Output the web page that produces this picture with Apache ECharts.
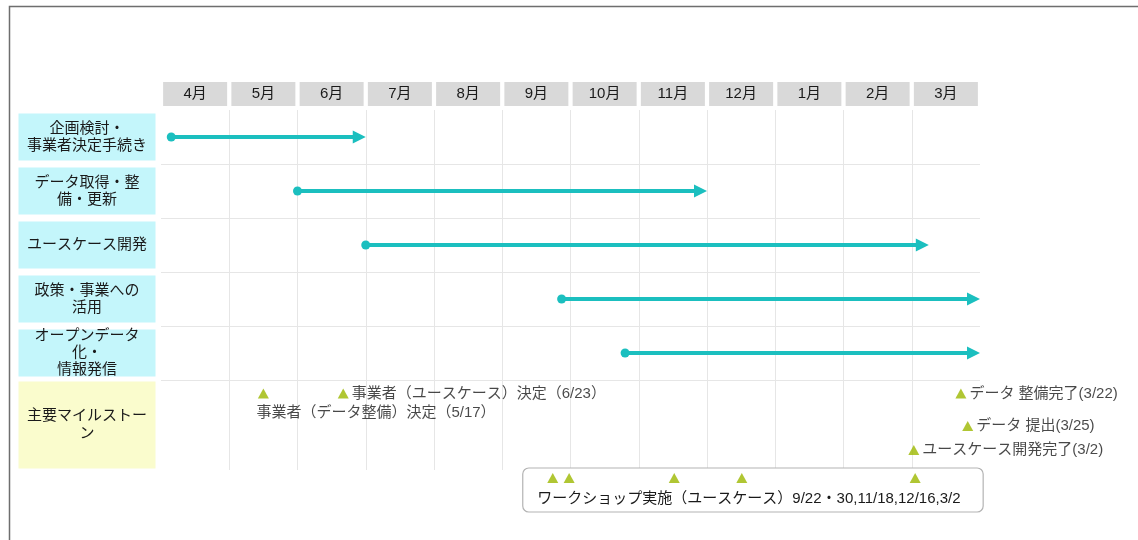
<!DOCTYPE html>
<html>
<head>
<meta charset="utf-8">
<script src="https://cdn.jsdelivr.net/npm/echarts@6/dist/echarts.min.js"></script>
<style>
html,body{margin:0;padding:0;background:#fff;}
#chart{width:1138px;height:540px;}
</style>
</head>
<body>
<div id="chart"></div>
<script>
// ---- data ----
const months = ['4月','5月','6月','7月','8月','9月','10月','11月','12月','1月','2月','3月'];
const tasks = ['企画検討・\n事業者決定手続き','データ取得・整\n備・更新','ユースケース開発','政策・事業への\n活用','オープンデータ\n化・\n情報発信'];
// month offsets from the start of April (0 = 4/1, 12 = end of March)
const taskStart = [0.15, 2.0, 3.0, 5.87, 6.8];
const taskEnd   = [3.0, 8.0, 11.25, 12.0, 12.0];

const milestoneRowLabel = '主要マイルストー\nン';
const milestoneLabels = ['事業者（データ整備）決定（5/17）','事業者（ユースケース）決定（6/23）','データ 整備完了(3/22)','データ 提出(3/25)','ユースケース開発完了(3/2)'];
const milestoneMonth = [1.50, 2.67, 11.72, 11.82, 11.03];
const milestoneLane  = [0.68, 0.68, 0.68, 2.3, 3.5];

const workshopLabel = 'ワークショップ実施（ユースケース）9/22・30,11/18,12/16,3/2';
const workshopMonth = [5.74, 5.98, 7.52, 8.51, 11.05];
const workshopLane = 4.9;

// ---- styles ----
const FONT = '"Liberation Sans", "Noto Sans CJK JP", sans-serif';
const TEAL = '#1bbfbf';
const OLIVE = '#9cb800';
const GRIDLINE = '#e6e6e6';

const chart = echarts.init(document.getElementById('chart'), null, {renderer: 'canvas'});

const hiddenAxis = {axisLine:{show:false}, axisTick:{show:false}, axisLabel:{show:false}};

const option = {
  backgroundColor: '#fff',
  animation: false,
  textStyle: {fontFamily: FONT},
  graphic: [{
    type: 'polyline',
    shape: {points: [[9.5, 540], [9.5, 6.5], [1138, 6.5]]},
    style: {stroke: '#6e6e6e', lineWidth: 1.5, fill: null},
    silent: true
  }],
  grid: [
    {left: 161, width: 819, top: 110, height: 270},
    {left: 161, width: 819, top: 380, height: 90}
  ],
  xAxis: [
    Object.assign({type: 'value', gridIndex: 0, min: 0, max: 12, interval: 1,
      splitLine: {show: true, showMinLine: false, showMaxLine: false, lineStyle: {color: GRIDLINE, width: 1}}}, hiddenAxis),
    Object.assign({type: 'value', gridIndex: 1, min: 0, max: 12, interval: 1,
      splitLine: {show: true, showMinLine: false, showMaxLine: false, lineStyle: {color: GRIDLINE, width: 1}}}, hiddenAxis),
    {type: 'category', gridIndex: 0, position: 'top', data: months, boundaryGap: true,
      axisLine: {show: false}, axisTick: {show: false}, splitLine: {show: false},
      axisLabel: {interval: 0, margin: 4, backgroundColor: '#d9d9d9', width: 64, height: 24, lineHeight: 24,
        align: 'center', fontSize: 15, color: '#1a1a1a', fontFamily: FONT}}
  ],
  yAxis: [
    {type: 'category', gridIndex: 0, data: tasks, inverse: true,
      axisLine: {show: false}, axisTick: {show: false}, splitLine: {show: false},
      axisLabel: {interval: 0, margin: 74, align: 'center', backgroundColor: '#c4f6fb', width: 137, height: 47,
        lineHeight: 17, fontSize: 15, color: '#1a1a1a', fontFamily: FONT}},
    Object.assign({type: 'value', gridIndex: 0, min: 0, max: 5, interval: 1, inverse: true,
      splitLine: {show: true, showMinLine: false, showMaxLine: true, lineStyle: {color: GRIDLINE, width: 1}}}, hiddenAxis),
    {type: 'category', gridIndex: 1, data: [milestoneRowLabel], inverse: true,
      axisLine: {show: false}, axisTick: {show: false}, splitLine: {show: false},
      axisLabel: {interval: 0, margin: 74, align: 'center', backgroundColor: '#fafccd', width: 137, height: 87,
        lineHeight: 18, fontSize: 15, color: '#1a1a1a', fontFamily: FONT}},
    Object.assign({type: 'value', gridIndex: 1, min: 0, max: 4.5, inverse: true, splitLine: {show: false}}, hiddenAxis)
  ],
  series: [
    {
      type: 'custom', name: 'tasks', xAxisIndex: 0, yAxisIndex: 0, clip: false, z: 5,
      data: tasks.map((t, i) => [taskStart[i], taskEnd[i], i]),
      encode: {x: [0, 1], y: 2},
      renderItem: function (params, api) {
        const s = api.coord([api.value(0), api.value(2)]);
        const e = api.coord([api.value(1), api.value(2)]);
        const headLen = 13, headHalf = 6.5;
        return {
          type: 'group',
          children: [
            {type: 'line', shape: {x1: s[0], y1: s[1], x2: e[0] - headLen + 1, y2: e[1]},
              style: {stroke: TEAL, lineWidth: 4}},
            {type: 'circle', shape: {cx: s[0], cy: s[1], r: 4.5}, style: {fill: TEAL}},
            {type: 'polygon', shape: {points: [[e[0], e[1]], [e[0] - headLen, e[1] - headHalf], [e[0] - headLen, e[1] + headHalf]]},
              style: {fill: TEAL}}
          ]
        };
      }
    },
    {
      type: 'custom', name: 'workshopBox', xAxisIndex: 1, yAxisIndex: 3, clip: false, z: 3,
      data: [[workshopMonth[0], workshopMonth[workshopMonth.length - 1], workshopLane]],
      encode: {x: [0, 1], y: 2},
      renderItem: function (params, api) {
        const a = api.coord([api.value(0), api.value(2)]);
        const b = api.coord([api.value(1), api.value(2)]);
        const x1 = a[0] - 30, x2 = b[0] + 68;
        const y1 = a[1] - 10, y2 = a[1] + 34;
        return {
          type: 'group',
          children: [
            {type: 'rect', shape: {x: x1, y: y1, width: x2 - x1, height: y2 - y1, r: 6},
              style: {fill: '#fff', stroke: '#b3b3b3', lineWidth: 1.2}},
            {type: 'text', style: {x: (x1 + x2) / 2 - 4, y: a[1] + 21, text: workshopLabel, align: 'center',
              verticalAlign: 'middle', fontSize: 15, fill: '#1a1a1a', fontFamily: FONT}}
          ]
        };
      }
    },
    {
      type: 'scatter', name: 'workshop', xAxisIndex: 1, yAxisIndex: 3, clip: false, z: 6,
      symbol: 'triangle', symbolSize: [11, 10], itemStyle: {color: OLIVE},
      data: workshopMonth.map(m => [m, workshopLane]),
      label: {show: false}
    },
    {
      type: 'scatter', name: 'milestones', xAxisIndex: 1, yAxisIndex: 3, clip: false, z: 6,
      symbol: 'triangle', symbolSize: [11, 10], itemStyle: {color: OLIVE},
      data: milestoneLabels.map((l, i) => ({
        name: l,
        value: [milestoneMonth[i], milestoneLane[i]],
        label: i === 0
          ? {show: true, position: 'bottom', align: 'left', distance: 5, offset: [-7, 2]}
          : {show: true, position: 'right', distance: 3}
      })),
      label: {show: true, formatter: '{b}', fontSize: 15, color: '#1a1a1a', fontFamily: FONT}
    }
  ]
};

chart.setOption(option);
</script>
</body>
</html>
